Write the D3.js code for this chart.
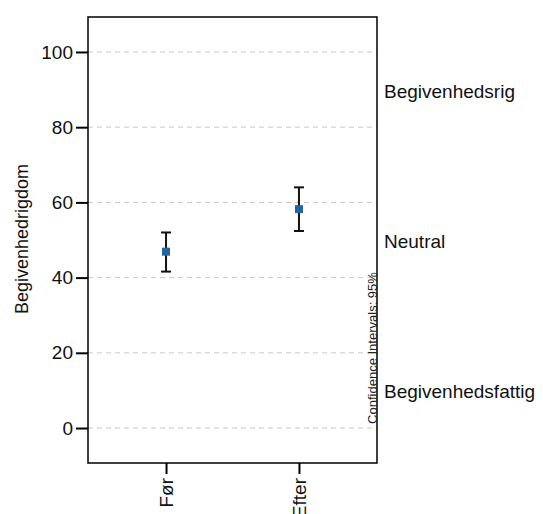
<!DOCTYPE html>
<html>
<head>
<meta charset="utf-8">
<script src="https://cdn.jsdelivr.net/npm/d3@7"></script>
<style>
  body { margin: 0; background: #fff; }
  svg { font-family: "Liberation Sans", Arial, sans-serif; display: block; }
</style>
</head>
<body>
<svg></svg>
<script>
const width = 543,
      height = 514,
      plot = {left: 88, top: 17, right: 377, bottom: 463};

// data
const groups = ["Før", "Efter"];
const means = [46.9, 58.2];
const lower = [41.6, 52.4];
const upper = [52.0, 64.0];
const yTicks = [0, 20, 40, 60, 80, 100];
const zones = ["Begivenhedsrig", "Neutral", "Begivenhedsfattig"];
const zoneValues = [89.6, 49.7, 9.8];

const svg = d3.select("svg")
              .attr("width", width)
              .attr("height", height);

const y = d3.scaleLinear()
            .domain([-9.3, 109.3])
            .range([plot.bottom, plot.top]);

const x = d3.scalePoint()
            .domain(groups)
            .range([plot.left, plot.right])
            .padding(0.587);

// gridlines
svg.append("g")
   .selectAll("line")
   .data(yTicks)
   .enter().append("line")
   .attr("x1", plot.left)
   .attr("x2", plot.right)
   .attr("y1", d => y(d))
   .attr("y2", d => y(d))
   .attr("stroke", "#c8c8c8")
   .attr("stroke-dasharray", "5,4");

// frame
svg.append("rect")
   .attr("x", plot.left)
   .attr("y", plot.top)
   .attr("width", plot.right - plot.left)
   .attr("height", plot.bottom - plot.top)
   .attr("fill", "none")
   .attr("stroke", "#000")
   .attr("stroke-width", 1.5);

// y axis
const yAxis = svg.append("g")
   .attr("transform", "translate(" + plot.left + ",0)")
   .call(d3.axisLeft(y).tickValues(yTicks).tickSize(12).tickPadding(3));
yAxis.select(".domain").remove();
yAxis.selectAll("line").attr("stroke-width", 2);
yAxis.selectAll("text").attr("font-size", 19).attr("fill", "#111")
     .attr("font-family", "Liberation Sans, Arial, sans-serif");

// x axis
const xAxis = svg.append("g")
   .attr("transform", "translate(0," + plot.bottom + ")")
   .call(d3.axisBottom(x).tickSize(11).tickPadding(4));
xAxis.select(".domain").remove();
xAxis.selectAll("line").attr("stroke-width", 2);
xAxis.selectAll("text")
     .attr("font-size", 19)
     .attr("fill", "#111")
     .attr("font-family", "Liberation Sans, Arial, sans-serif")
     .attr("transform", "rotate(-90)")
     .attr("text-anchor", "end")
     .attr("dy", "0.35em")
     .attr("x", -15)
     .attr("y", 0);

// error bars
const bars = svg.append("g");
groups.forEach((g, i) => {
  const cx = x(g);
  bars.append("line")
      .attr("x1", cx).attr("x2", cx)
      .attr("y1", y(lower[i])).attr("y2", y(upper[i]))
      .attr("stroke", "#111").attr("stroke-width", 2);
  [lower[i], upper[i]].forEach(v => {
    bars.append("line")
        .attr("x1", cx - 5).attr("x2", cx + 5)
        .attr("y1", y(v)).attr("y2", y(v))
        .attr("stroke", "#111").attr("stroke-width", 2);
  });
  bars.append("rect")
      .attr("x", cx - 4).attr("y", y(means[i]) - 4)
      .attr("width", 8).attr("height", 8)
      .attr("fill", "#1f65a0");
});

// zone labels
svg.append("g")
   .selectAll("text")
   .data(zones)
   .enter().append("text")
   .attr("x", 384)
   .attr("y", (d, i) => y(zoneValues[i]))
   .attr("dy", "0.35em")
   .attr("font-size", 19)
   .attr("fill", "#111")
   .text(d => d);

// CI note
svg.append("text")
   .attr("transform", "translate(372,348) rotate(-90)")
   .attr("text-anchor", "middle")
   .attr("dy", "0.35em")
   .attr("font-size", 13)
   .attr("fill", "#222")
   .text("Confidence Intervals: 95%");

// y title
svg.append("text")
   .attr("transform", "translate(22,239) rotate(-90)")
   .attr("text-anchor", "middle")
   .attr("dy", "0.35em")
   .attr("font-size", 18)
   .attr("fill", "#111")
   .text("Begivenhedrigdom");
</script>
</body>
</html>
